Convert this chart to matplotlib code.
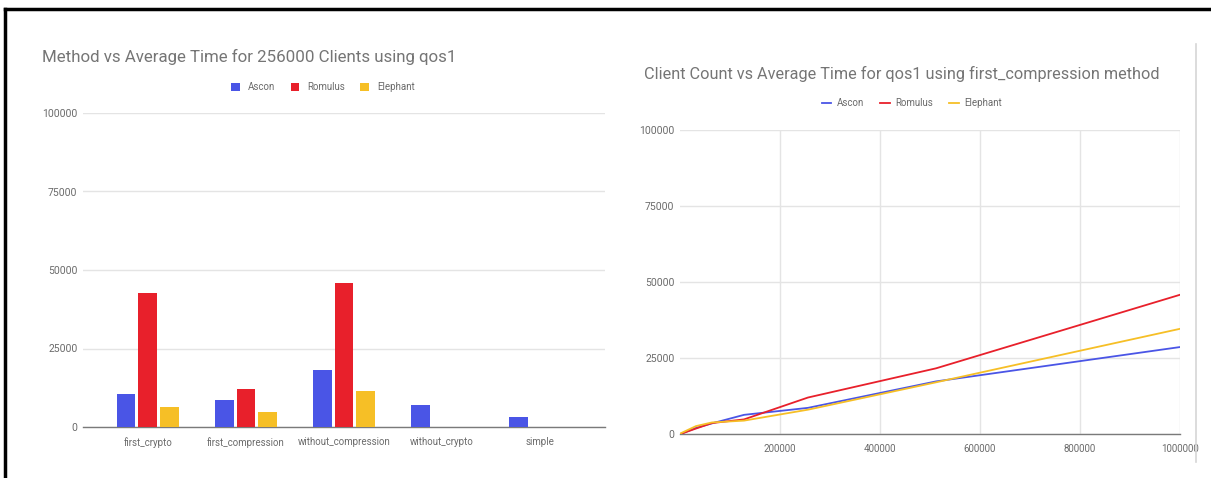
import matplotlib

matplotlib.use("Agg")
import matplotlib.pyplot as plt  # noqa: E402
from matplotlib.lines import Line2D  # noqa: E402

plt.rcParams["font.family"] = ["Roboto", "DejaVu Sans"]

# --- data -------------------------------------------------------------------
methods = ["first_crypto", "first_compression", "without_compression",
           "without_crypto", "simple"]
series = ["Ascon", "Romulus", "Elephant"]
ascon_by_method = [10500, 8700, 18000, 7000, 3300]
romulus_by_method = [42800, 12200, 45800, 0, 0]
elephant_by_method = [6500, 4800, 11600, 0, 0]

clients = [1000, 32000, 64000, 128000, 256000, 512000, 1000000]
ascon_by_clients = [0, 2000, 3500, 6300, 8600, 17300, 28600]
romulus_by_clients = [0, 1800, 3600, 4800, 12000, 21600, 45800]
elephant_by_clients = [200, 2600, 3800, 4400, 8000, 17000, 34600]

y_ticks = [0, 25000, 50000, 75000, 100000]
x_ticks = [200000, 400000, 600000, 800000, 1000000]

COLORS = ["#4a55e6", "#e8202b", "#f6bf26"]
GRID = "#e4e4e4"
TEXT = "#6b6b6b"
TITLE = "#757575"

W, H = 1211, 478
fig = plt.figure(figsize=(W / 100, H / 100), dpi=100)


def frac(x0, y_top, x1, y_bottom):
    """Pixel box -> figure fraction rectangle."""
    return [x0 / W, 1 - y_bottom / H, (x1 - x0) / W, (y_bottom - y_top) / H]


def style_axes(ax):
    for side in ("top", "right", "left"):
        ax.spines[side].set_visible(False)
    ax.spines["bottom"].set_color("#7a7a7a")
    ax.spines["bottom"].set_linewidth(1.0)
    ax.set_ylim(0, 100000)
    ax.set_yticks(y_ticks)
    ax.set_yticklabels([str(v) for v in y_ticks])
    ax.yaxis.grid(True, color=GRID, linewidth=1.0)
    ax.set_axisbelow(True)
    ax.tick_params(axis="both", length=0, labelsize=7, labelcolor=TEXT)
    ax.tick_params(axis="y", pad=4, labelsize=7.5)


# --- left: grouped bars ------------------------------------------------------
ax1 = fig.add_axes(frac(83, 113, 605, 427))
style_axes(ax1)
offsets = [-0.22, 0.0, 0.22]
for vals, off, color, name in zip(
        [ascon_by_method, romulus_by_method, elephant_by_method], offsets, COLORS, series):
    ax1.bar([i + off for i in range(len(methods))], vals, width=0.19,
            color=color, label=name, zorder=3)
ax1.set_xlim(-0.66, len(methods) - 1 + 0.66)
ax1.set_xticks(range(len(methods)))
ax1.set_xticklabels(methods)
ax1.tick_params(axis="x", pad=7)
ax1.legend(loc="center", bbox_to_anchor=(323 / W, 1 - 87 / H),
           bbox_transform=fig.transFigure, ncol=3, frameon=False, fontsize=7,
           labelcolor=TEXT, handlelength=0.9, handleheight=0.9,
           handletextpad=0.8, columnspacing=1.6)
fig.text(42 / W, 1 - 57 / H, "Method vs Average Time for 256000 Clients using qos1",
         fontsize=12.2, color=TITLE, va="center", ha="left")

# --- right: lines -------------------------------------------------------------
ax2 = fig.add_axes(frac(680, 130, 1180, 434))
style_axes(ax2)
for vals, color, name in zip(
        [ascon_by_clients, romulus_by_clients, elephant_by_clients], COLORS, series):
    ax2.plot(clients, vals, color=color, linewidth=1.3, label=name, zorder=3)
ax2.set_xlim(0, 1000000)
ax2.set_xticks(x_ticks)
ax2.set_xticklabels([str(v) for v in x_ticks])
ax2.xaxis.grid(True, color=GRID, linewidth=1.0)
ax2.tick_params(axis="x", pad=7)
ax2.legend(loc="center", bbox_to_anchor=(912 / W, 1 - 103 / H),
           bbox_transform=fig.transFigure, ncol=3, frameon=False, fontsize=7,
           labelcolor=TEXT, handlelength=1.0, handletextpad=0.6, columnspacing=1.6)
fig.text(644 / W, 1 - 74 / H,
         "Client Count vs Average Time for qos1 using first_compression method",
         fontsize=11.7, color=TITLE, va="center", ha="left")

# --- page decoration: screenshot frame and chart divider ---------------------
fig.add_artist(Line2D([5 / W, 1], [1 - 9 / H, 1 - 9 / H], color="black",
                      linewidth=2.5, transform=fig.transFigure))
fig.add_artist(Line2D([5 / W, 5 / W], [0, 1 - 9 / H], color="black",
                      linewidth=2.5, transform=fig.transFigure))
fig.add_artist(Line2D([1196 / W, 1196 / W], [1 - 462 / H, 1 - 44 / H],
                      color="#d6d6d6", linewidth=1.2, transform=fig.transFigure))

fig.savefig("out.png", dpi=100)
